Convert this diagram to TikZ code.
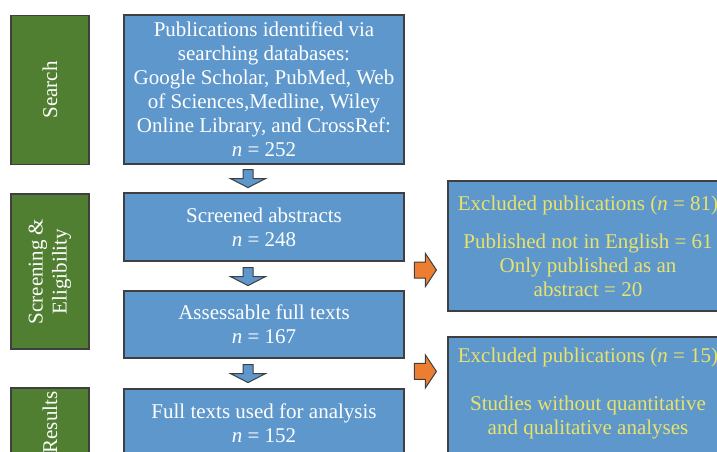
\documentclass[tikz,border=0pt]{standalone}
\usepackage{fontspec}
\setmainfont{Liberation Serif}
\usetikzlibrary{calc}
\definecolor{boxblue}{HTML}{5E97CC}
\definecolor{stagegreen}{HTML}{507F32}
\definecolor{arroworange}{HTML}{ED7D31}
\definecolor{edgegrey}{HTML}{3F3F3F}
\definecolor{excyellow}{HTML}{EAE36A}
\begin{document}
\begin{tikzpicture}[x=1pt,y=-1pt,
    txt/.style={font=\fontsize{21}{24}\selectfont,align=center,inner sep=0pt},
    stage/.style={txt,draw=edgegrey,line width=1.2pt,fill=stagegreen,text=white,rotate=90,minimum height=78pt},
    flow/.style={txt,draw=edgegrey,line width=1.2pt,fill=boxblue,text=white,minimum width=280pt},
    excl/.style={txt,draw=edgegrey,line width=1.2pt,fill=boxblue,text=excyellow,minimum width=280pt},
    downarr/.pic={\draw[fill=boxblue,draw=edgegrey,line width=1pt] (-5,0) -- (5,0) -- (5,9) -- (17.5,9) -- (0,18) -- (-17.5,9) -- (-5,9) -- cycle;},
    rightarr/.pic={\draw[fill=arroworange,draw=edgegrey,line width=1pt] (0,-8) -- (11,-8) -- (11,-16.5) -- (22,0) -- (11,16.5) -- (11,8) -- (0,8) -- cycle;}]
    \useasboundingbox (0,0) rectangle (717,451);
    \clip (0,0) rectangle (717,451);
    % stages
    \node[stage,minimum width=149pt] (search) at (50,90) {Search};
    \node[stage,minimum width=155pt] (screen) at (50,271.5) {Screening \&\\ Eligibility};
    \node[stage,minimum width=69pt] (results) at (50,422.5) {Results};
    % flow boxes
    \node[flow,minimum height=149pt] (pub) at (264,89.5) {Publications identified via\\ searching databases:\\ Google Scholar, PubMed, Web\\ of Sciences,Medline, Wiley\\ Online Library, and CrossRef:\\ \textit{n} = 252};
    \node[flow,minimum height=68pt] (scr) at (264,227) {Screened abstracts\\ \textit{n} = 248};
    \node[flow,minimum height=67pt] (ass) at (264,324.5) {Assessable full texts\\ \textit{n} = 167};
    \node[flow,minimum height=68pt] (full) at (264,423) {Full texts used for analysis\\ \textit{n} = 152};
    \pic at ($(pub.south)+(-16,5)$) {downarr};
    \pic at ($(scr.south)+(-16,6)$) {downarr};
    \pic at ($(ass.south)+(-16,6)$) {downarr};
    % excluded
    \node[excl,minimum height=130pt] (ex1) at (588,246) {Excluded publications (\textit{n} = 81)\\[14pt] Published not in English = 61\\ Only published as an\\ abstract = 20};
    \node[excl,minimum height=125pt] (ex2) at (588,399.5) {};
    \node[txt,text=excyellow,anchor=north] (ex2t) at ($(ex2.north)+(0,11)$) {Excluded publications (\textit{n} = 15)\\[24pt] Studies without quantitative\\ and qualitative analyses};
    \pic at ($(ex1.west)+(-33,24)$) {rightarr};
    \pic at ($(ex2.north west)+(-33,35)$) {rightarr};
\end{tikzpicture}
\end{document}
